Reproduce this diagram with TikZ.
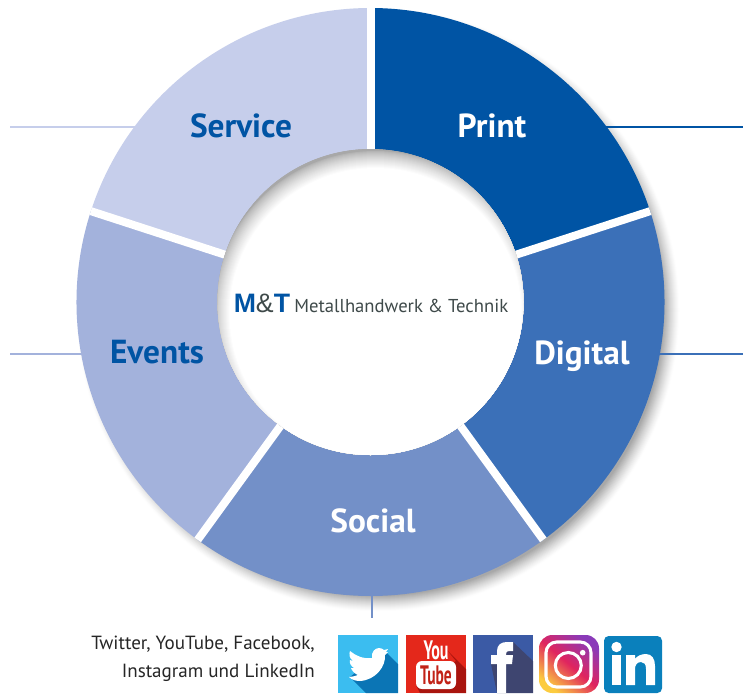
\documentclass[tikz,border=0pt]{standalone}
\usepackage{fontspec}
\setmainfont{PT Sans}
\newfontfamily\logofont{Liberation Sans}
\definecolor{cPrint}{HTML}{0054A4}
\definecolor{cDigital}{HTML}{3B70B8}
\definecolor{cSocial}{HTML}{7390C8}
\definecolor{cEvents}{HTML}{A3B2DC}
\definecolor{cService}{HTML}{C6CEEB}
\definecolor{cDark}{HTML}{3F4A4A}
\definecolor{cShadow}{HTML}{A8A8A8}
\definecolor{twA}{HTML}{3BBDF0}\definecolor{twB}{HTML}{0B75B5}
\definecolor{ytA}{HTML}{E4281B}\definecolor{ytB}{HTML}{A9140E}
\definecolor{fbA}{HTML}{3B5AA5}\definecolor{fbB}{HTML}{3E4570}
\definecolor{inA}{HTML}{0A80BC}
\definecolor{igA}{HTML}{8A3AB9}\definecolor{igB}{HTML}{E0245E}\definecolor{igC}{HTML}{FCCC3F}
\tikzset{
 seglabel/.style={font=\fontsize{25}{28}\selectfont\bfseries,inner sep=0pt,anchor=base},
 leader/.style={line width=1.9pt},
 gap/.style={white,line width=6pt},
 caption/.style={font=\fontsize{14.3}{21}\selectfont,text=black!85,align=right,inner sep=0pt},
}
\newcommand{\ringseg}[3]{\fill[#3] (#1:294) arc[start angle=#1,end angle=#2,radius=294] -- (#2:153) arc[start angle=#2,end angle=#1,radius=153] -- cycle;}
\begin{document}
\begin{tikzpicture}[x=0.75pt,y=-0.75pt]
\useasboundingbox (0,0) rectangle (743,693);
\fill[white] (0,0) rectangle (743,693);
% leaders
\coordinate (pA) at (600,127); \coordinate (pB) at (743,127);
\coordinate (dA) at (650,354); \coordinate (dB) at (743,354);
\coordinate (sA) at (140,127); \coordinate (sB) at (10,127);
\coordinate (eA) at (90,354);  \coordinate (eB) at (10,354);
\coordinate (oA) at (372,590); \coordinate (oB) at (372,618);
% outer shadow
\foreach \i in {0,...,16}{
  \pgfmathsetmacro\g{100*(\i/16)^1.3}
  \fill[cShadow!\g!white] (378,310) circle ({294+8-\i});
}
\draw[leader,cPrint] (pA) -- (pB);
\draw[leader,cDigital] (dA) -- (dB);
\draw[leader,cService] (sA) -- (sB);
\draw[leader,cEvents] (eA) -- (eB);
\draw[leader,cSocial] (oA) -- (oB);
\begin{scope}[shift={(370.5,302)}]
\ringseg{-90}{-18}{cPrint}
\ringseg{-18}{54}{cDigital}
\ringseg{54}{126}{cSocial}
\ringseg{126}{198}{cEvents}
\ringseg{198}{270}{cService}
\foreach \a in {-90,-18,54,126,198}{
  \draw[gap] (\a:145) -- (\a:294);
}
% hole with inner shadow
\begin{scope}
\clip (0,0) circle (153);
\fill[cShadow] (0,0) circle (153);
\foreach \i in {0,...,18}{
  \pgfmathsetmacro\g{100*(\i/18)^0.7}
  \fill[cShadow!\fpeval{100-\g}!white] (5,12) circle ({164-\i});
}
\end{scope}
\end{scope}
% labels
\node[seglabel,text=white] (print) at (492,137.5) {Print};
\node[seglabel,text=white] (digital) at (582,364.5) {Digital};
\node[seglabel,text=white] (social) at (373,532.5) {Social};
\node[seglabel,text=cPrint] (events) at (157,363.5) {Events};
\node[seglabel,text=cPrint] (service) at (241,137.5) {Service};
% centre logo
\node[inner sep=0pt,anchor=base west,font=\logofont\fontsize{20}{20}\selectfont] (mt) at (233.5,312)
  {\textcolor{cPrint}{\textbf{M}}\textcolor{cDark}{\&}\textcolor{cPrint}{\textbf{T}}};
\node[inner sep=0pt,anchor=base west,text=cDark,font=\fontsize{14}{14}\selectfont] (mtname) at (294,312) {Metallhandwerk \& Technik};
% caption
\node[caption,anchor=north east] (cap) at (315,636) {Twitter, YouTube, Facebook,\\Instagram und LinkedIn};
% Twitter
\fill[twA] (338,635) rectangle (398,693);
\fill[twB] (384,650) -- (398,664) -- (398,693) -- (366,693) -- (350,677) -- cycle;
\fill[white] (350,651) .. controls (356,656) and (363,659) .. (372,658)
  .. controls (371,652) and (375,648) .. (379,648)
  .. controls (381,648) and (383,649) .. (384,650) -- (388,649) -- (386,652) -- (388,652) -- (385,655)
  .. controls (386,666) and (376,680) .. (360,681)
  .. controls (356,681) and (352,680) .. (349,677)
  .. controls (352,677) and (355,676) .. (358,675)
  .. controls (355,674) and (352,671) .. (351,668) -- (354,668)
  .. controls (351,666) and (349,663) .. (350,660) -- (353,661)
  .. controls (349,658) and (349,654) .. (350,651) -- cycle;
% YouTube
\fill[ytA] (406,635) rectangle (466,693);
\fill[ytB] (447,650) -- (466,669) -- (466,693) -- (420,693) -- (416,685) -- (456,661) -- cycle;
\node[inner sep=0pt,text=white,xscale=.6,font=\fontsize{20}{20}\selectfont\bfseries] (you) at (436,650) {You};
\fill[white,rounded corners=4.5pt] (416,661) rectangle (456,689);
\node[inner sep=0pt,text=ytA!85!black,xscale=.58,font=\fontsize{20}{20}\selectfont\bfseries] (tube) at (436,675.5) {Tube};
% Facebook
\fill[fbA] (473,635) rectangle (533,693);
\fill[fbB] (513,642) -- (533,661) -- (533,693) -- (497,693) -- (491,664) -- cycle;
\fill[white] (497,693) -- (497,664) -- (491,664) -- (491,655) -- (497,655) -- (497,651)
  .. controls (497,645) and (501,642) .. (507,642) -- (513,642) -- (513,651) -- (509,651)
  .. controls (507,651) and (506,652) .. (506,654) -- (506,655) -- (513,655) -- (512,664) -- (506,664) -- (506,693) -- cycle;
% Instagram
\shade[rounded corners=10pt,shading=axis,top color=igA,bottom color=igC,middle color=igB,shading angle=-40] (539,635) rectangle (599,693);
\draw[white,line width=2.3pt,rounded corners=8pt] (546,642) rectangle (591,687);
\draw[white,line width=2.3pt] (568.3,665.5) circle (13);
\fill[white] (582.7,652.7) circle (2.8);
% LinkedIn
\fill[inA,rounded corners=3.5pt] (604,636) rectangle (662,693);
\fill[white] (616.5,647) circle (5.2);
\fill[white] (612,655) rectangle (621,685);
\fill[white] (626,655) -- (635,655) -- (635,659) .. controls (637,656) and (641,654) .. (646,654)
  .. controls (652,654) and (655,659) .. (655,666) -- (655,685) -- (646,685) -- (646,669)
  .. controls (646,664) and (644,662) .. (641,662) .. controls (637,662) and (635,665) .. (635,669) -- (635,685) -- (626,685) -- cycle;
\end{tikzpicture}
\end{document}
